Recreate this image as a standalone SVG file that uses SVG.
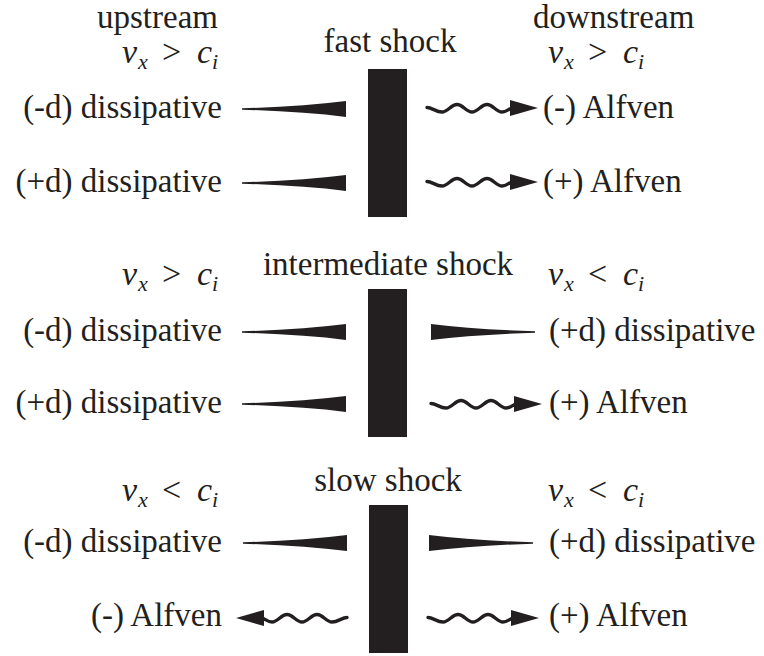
<svg xmlns="http://www.w3.org/2000/svg" xmlns:xlink="http://www.w3.org/1999/xlink" width="764" height="656" viewBox="0 0 764 656">
<style>
.t{font-family:'Liberation Serif','Times New Roman',serif;font-size:33px;fill:#231f20}
.m{font-family:'Liberation Serif','Times New Roman',serif;font-style:italic;font-size:34px;fill:#231f20}
.s{font-size:22px}
.op{font-style:normal}
.bar{fill:#231f20}
.wedge{fill:#231f20}
.wave{fill:none;stroke:#231f20;stroke-width:3.4;stroke-linecap:round}
.head{fill:#231f20}
</style>
<defs>
<path id="wedgeL" class="wedge" d="M0,-0.7 Q60,-2.5 104,-8 L104,8 Q60,2.5 0,0.7 Z"/>
<g id="wavyR">
<path class="wave" d="M0,-0.5 C5,-0.5 9,4 15,4 C21,4 24,-3.5 30,-3.5 C36,-3.5 39,4 45,4 C51,4 54,-3.5 60,-3.5 C66,-3.5 69,4 75,4 C80,4 82,0 86,0"/>
<path class="head" d="M83,-8 L111,0 L83,8 Z"/>
</g>
</defs>
<g id="headers">
<text class="t" x="218" y="28" text-anchor="end">upstream</text>
<text class="t" x="533" y="28">downstream</text>
</g>

<g id="fast-shock">
<text class="t" x="390" y="52" text-anchor="middle">fast shock</text>
<rect class="bar" x="368" y="69" width="39" height="148"/>
</g>
<g id="intermediate-shock">
<text class="t" x="388" y="275" text-anchor="middle">intermediate shock</text>
<rect class="bar" x="368" y="289" width="39" height="148"/>
</g>
<g id="slow-shock">
<text class="t" x="388" y="491" text-anchor="middle">slow shock</text>
<rect class="bar" x="369" y="505" width="39" height="148"/>
</g>

<g id="cond-fast-up"><text class="m" y="63"><tspan x="122">v</tspan><tspan class="s" x="138" dy="6">x</tspan><tspan class="op" x="162" dy="-6">&gt;</tspan><tspan x="197">c</tspan><tspan class="s" x="212" dy="6">i</tspan></text></g>
<g id="cond-fast-down"><text class="m" y="63"><tspan x="548">v</tspan><tspan class="s" x="564" dy="6">x</tspan><tspan class="op" x="588" dy="-6">&gt;</tspan><tspan x="623">c</tspan><tspan class="s" x="638" dy="6">i</tspan></text></g>
<g id="cond-int-up"><text class="m" y="285"><tspan x="122">v</tspan><tspan class="s" x="138" dy="6">x</tspan><tspan class="op" x="162" dy="-6">&gt;</tspan><tspan x="197">c</tspan><tspan class="s" x="212" dy="6">i</tspan></text></g>
<g id="cond-int-down"><text class="m" y="285"><tspan x="548">v</tspan><tspan class="s" x="564" dy="6">x</tspan><tspan class="op" x="588" dy="-6">&lt;</tspan><tspan x="623">c</tspan><tspan class="s" x="638" dy="6">i</tspan></text></g>
<g id="cond-slow-up"><text class="m" y="501"><tspan x="122">v</tspan><tspan class="s" x="138" dy="6">x</tspan><tspan class="op" x="162" dy="-6">&lt;</tspan><tspan x="197">c</tspan><tspan class="s" x="212" dy="6">i</tspan></text></g>
<g id="cond-slow-down"><text class="m" y="501"><tspan x="548">v</tspan><tspan class="s" x="564" dy="6">x</tspan><tspan class="op" x="588" dy="-6">&lt;</tspan><tspan x="623">c</tspan><tspan class="s" x="638" dy="6">i</tspan></text></g>

<g id="fast-up-1"><text class="t" x="222" y="118" text-anchor="end">(-d) dissipative</text></g>
<g id="fast-up-2"><text class="t" x="222" y="192" text-anchor="end">(+d) dissipative</text></g>
<g id="fast-down-1"><text class="t" x="543" y="118">(-) Alfven</text></g>
<g id="fast-down-2"><text class="t" x="543" y="192">(+) Alfven</text></g>

<g id="int-up-1"><text class="t" x="222" y="341" text-anchor="end">(-d) dissipative</text></g>
<g id="int-up-2"><text class="t" x="222" y="413" text-anchor="end">(+d) dissipative</text></g>
<g id="int-down-1"><text class="t" x="549" y="341">(+d) dissipative</text></g>
<g id="int-down-2"><text class="t" x="549" y="413">(+) Alfven</text></g>

<g id="slow-up-1"><text class="t" x="222" y="552" text-anchor="end">(-d) dissipative</text></g>
<g id="slow-up-2"><text class="t" x="222" y="626" text-anchor="end">(-) Alfven</text></g>
<g id="slow-down-1"><text class="t" x="549" y="552">(+d) dissipative</text></g>
<g id="slow-down-2"><text class="t" x="549" y="626">(+) Alfven</text></g>

<g id="connectors">
<use xlink:href="#wedgeL" transform="translate(242,109)"/>
<use xlink:href="#wedgeL" transform="translate(242,183)"/>
<use xlink:href="#wavyR" transform="translate(427,108)"/>
<use xlink:href="#wavyR" transform="translate(427,182)"/>

<use xlink:href="#wedgeL" transform="translate(242,332)"/>
<use xlink:href="#wedgeL" transform="translate(242,404)"/>
<use xlink:href="#wedgeL" transform="translate(535,332) scale(-1,1)"/>
<use xlink:href="#wavyR" transform="translate(431,404)"/>

<use xlink:href="#wedgeL" transform="translate(243,543)"/>
<use xlink:href="#wedgeL" transform="translate(533,543) scale(-1,1)"/>
<use xlink:href="#wavyR" transform="translate(347,618) scale(-1,1)"/>
<use xlink:href="#wavyR" transform="translate(428,618)"/>
</g>
</svg>
